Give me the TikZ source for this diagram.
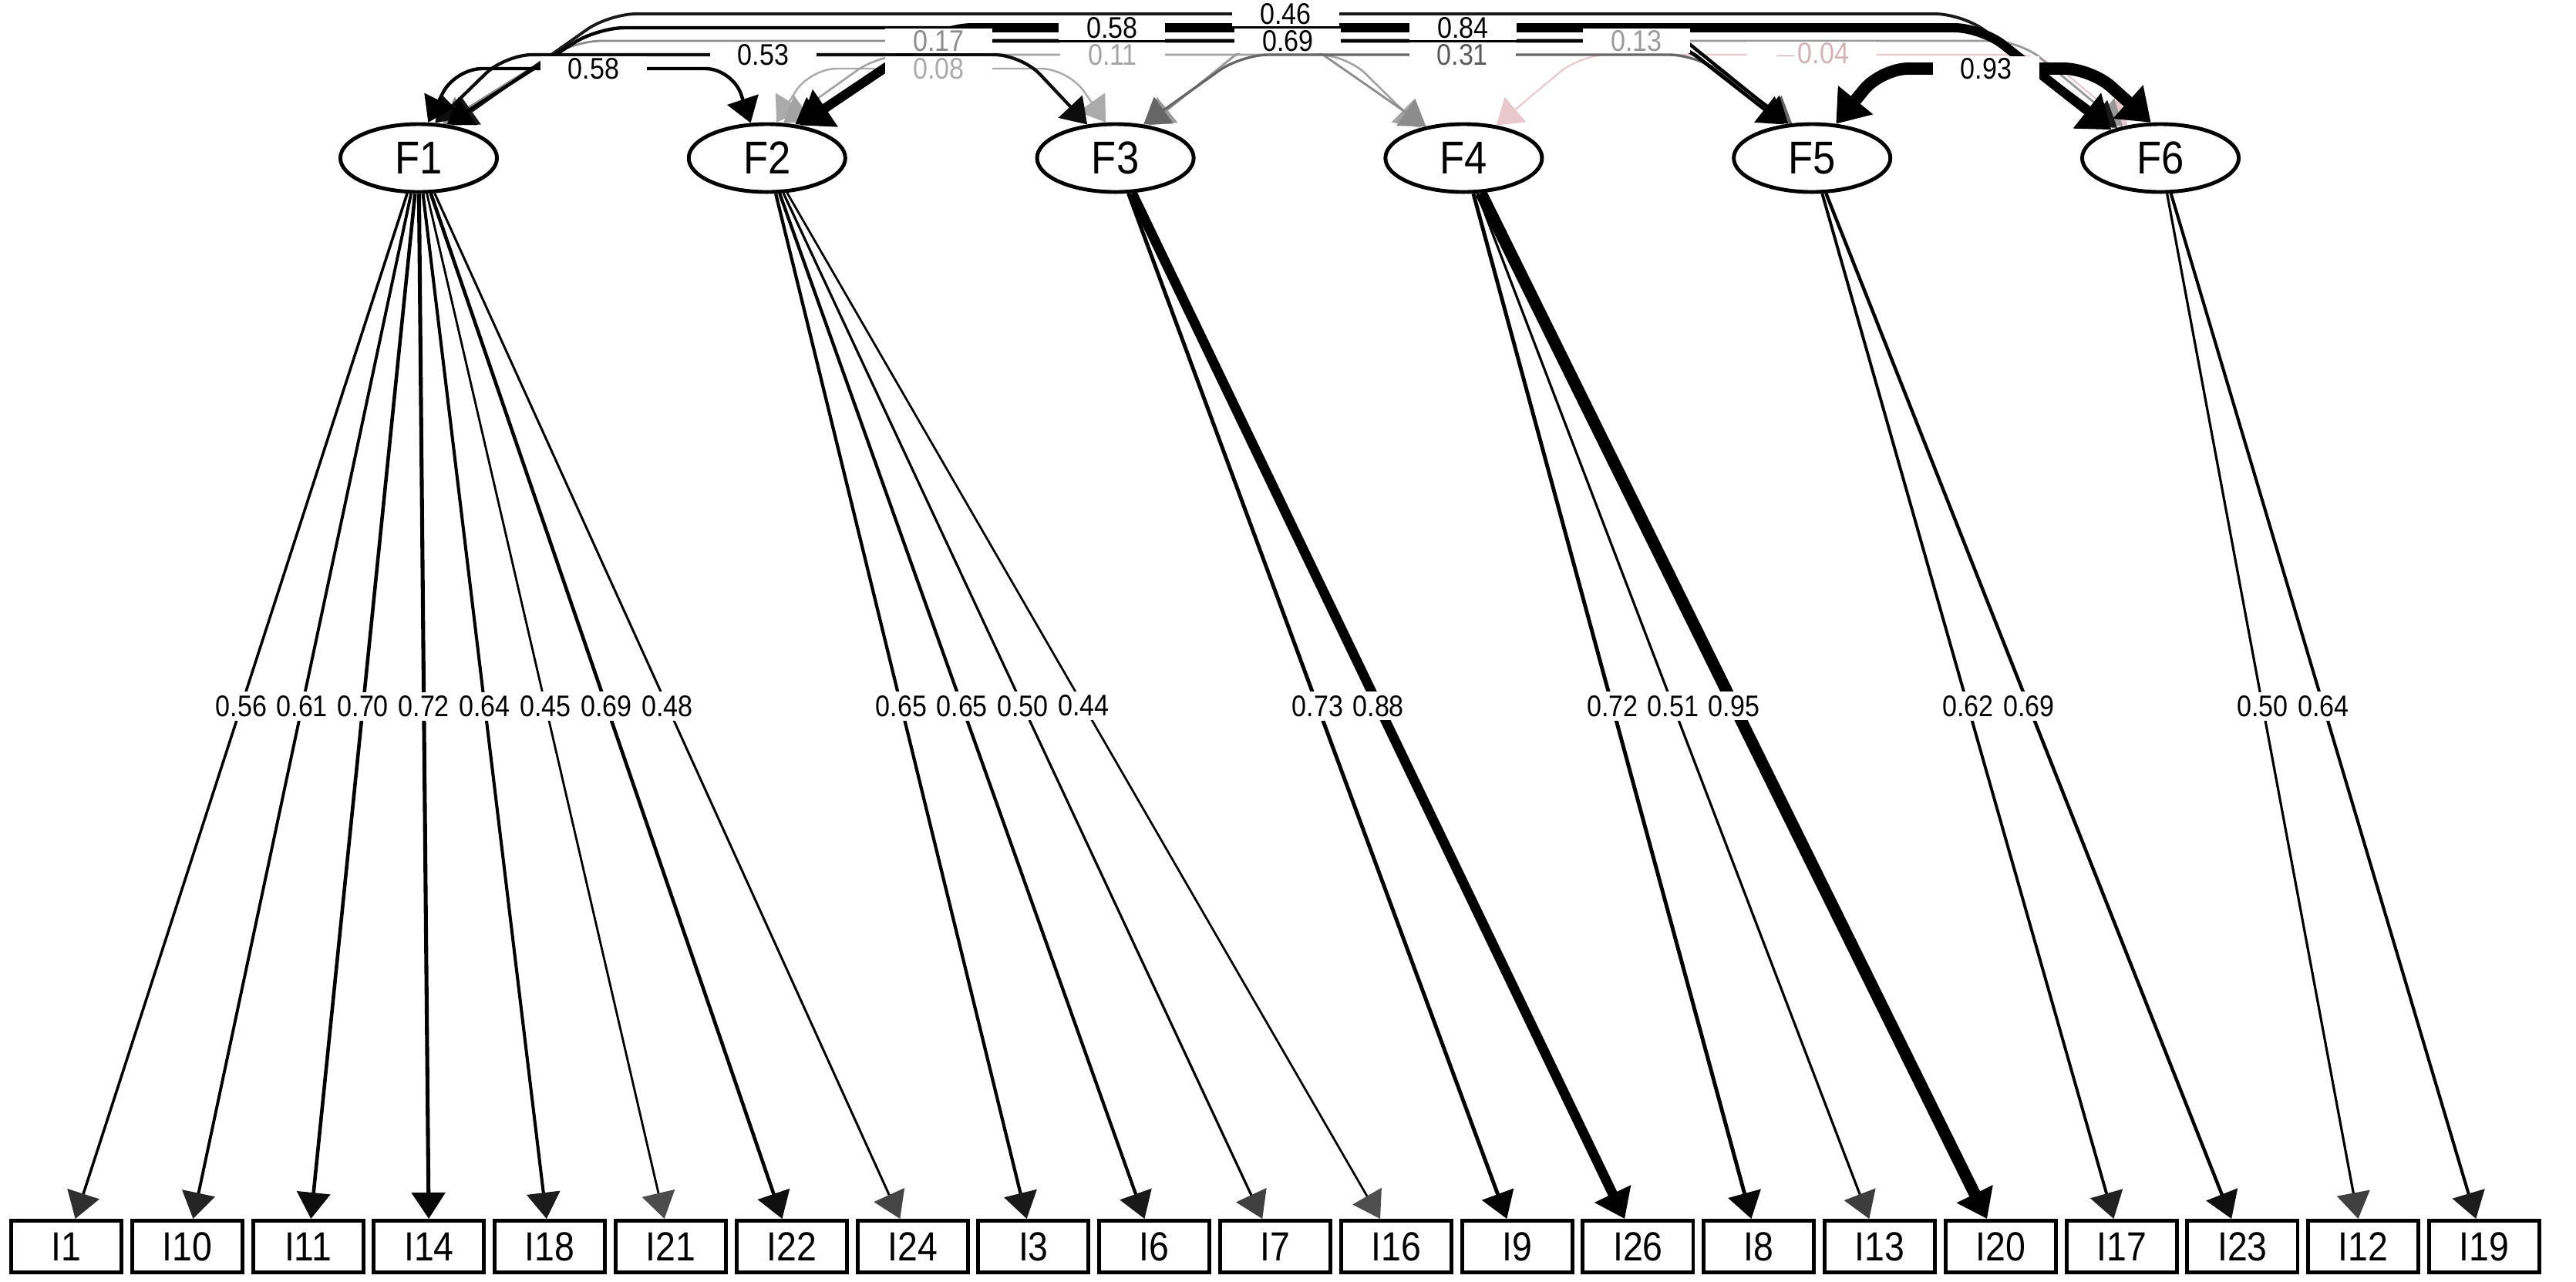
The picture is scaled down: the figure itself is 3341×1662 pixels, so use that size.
\documentclass[tikz,border=0pt]{standalone}
\usepackage{fontspec}
\setmainfont{Liberation Sans}[FakeStretch=0.88]
\usetikzlibrary{arrows.meta,shapes.geometric}
\pgfdeclarelayer{edges}
\pgfsetlayers{edges,main}
\definecolor{faintpink}{RGB}{232,200,204}
\begin{document}
\begin{tikzpicture}[x=0.01cm,y=-0.01cm,
  factor/.style={draw, ellipse, fill=white, line width=1.4pt, minimum width=2.03cm, minimum height=0.88cm, inner sep=0pt, font=\fontsize{17}{17}\selectfont},
  item/.style={draw, rectangle, fill=white, line width=1.4pt, minimum width=1.43cm, minimum height=0.67cm, inner sep=0pt, font=\fontsize{15}{15}\selectfont},
  llab/.style={fill=white, inner xsep=0.05cm, inner ysep=0.05cm, font=\fontsize{11}{11}\selectfont},
  clab/.style={fill=white, inner xsep=0.36cm, inner ysep=0.02cm, font=\fontsize{11}{11}\selectfont},
  corr/.style={rounded corners=0.35cm, {Triangle[width=0.42cm,length=0.32cm]}-{Triangle[width=0.42cm,length=0.32cm]}},
  thickcorr/.style={rounded corners=0.35cm, {Triangle[width=0.56cm,length=0.4cm]}-{Triangle[width=0.56cm,length=0.4cm]}}
]
\useasboundingbox (0,0) rectangle (3341,1662);

% latent factors
\foreach \k in {1,...,6}
  \node[factor] (F\k) at ({543+451.8*(\k-1)},205) {F\k};

% observed items
\foreach \n [count=\c from 0] in {I1,I10,I11,I14,I18,I21,I22,I24,I3,I6,I7,I16,I9,I26,I8,I13,I20,I17,I23,I12,I19}
  \node[item] (\n) at ({86+156.8*\c},1617) {\n};

% loadings
\foreach \f/\i/\v/\w in {F1/I1/0.56/1.0, F1/I10/0.61/1.1, F1/I11/0.70/1.3, F1/I14/0.72/1.45, F1/I18/0.64/1.15, F1/I21/0.45/0.8, F1/I22/0.69/1.3, F1/I24/0.48/0.85,
  F2/I3/0.65/1.2, F2/I6/0.65/1.2, F2/I7/0.50/0.9, F2/I16/0.44/0.78,
  F3/I9/0.73/1.4, F4/I8/0.72/1.4, F4/I13/0.51/0.9,
  F5/I17/0.62/1.1, F5/I23/0.69/1.25, F6/I12/0.50/0.9, F6/I19/0.64/1.15}{
  \pgfmathsetmacro\s{min(100,25+100*\v)}
  \pgfmathsetmacro\t{min(100,55+100*\v)}
  \begin{pgfonlayer}{edges}
    \draw[-{Triangle[width=0.43cm,length=0.34cm,fill=black!\s,color=black!\s]}, line width=\w pt, draw=black!\t] (\f) -- coordinate (m\i) (\i);
  \end{pgfonlayer}
  \node[llab] at (m\i) {\v};
}
\foreach \f/\i/\v/\w in {F3/I26/0.88/3.6, F4/I20/0.95/4.4}{
  \begin{pgfonlayer}{edges}
    \draw[-{Triangle[width=0.5cm,length=0.36cm]}, line width=\w pt, draw=black] (\f) -- coordinate (m\i) (\i);
  \end{pgfonlayer}
  \node[llab] at (m\i) {\v};
}

% factor correlations
\begin{pgfonlayer}{edges}
\draw[corr, line width=0.6pt, draw=faintpink] (F4.45) -- (2050,71) -- coordinate[pos=0.5] (cm04) (2650,71) -- (F6.135);
\draw[corr, line width=0.7pt, draw=black!33] (F2.75) -- (1050,89) -- coordinate[pos=0.5] (c08) (1385,89) -- (F3.105);
\draw[corr, line width=0.75pt, draw=black!36] (F2.65) -- (1140,71) -- coordinate[pos=0.5] (c11) (1746,71) -- (F4.145);
\draw[corr, line width=0.8pt, draw=black!40] (F3.45) -- (1625,53) -- coordinate[pos=0.5] (c13) (2620,53) -- (F6.140);
\draw[corr, line width=0.8pt, draw=black!45] (F1.55) -- (745,53) -- coordinate[pos=0.5] (c17) (1690,53) -- (F4.140);
\draw[corr, line width=0.95pt, draw=black!60] (F3.50) -- (1610,71) -- coordinate[pos=0.486] (c31) (2200,71) -- (F5.120);
\draw[corr, line width=1.1pt, draw=black!90] (F1.45) -- (790,18) -- coordinate[pos=0.5] (c46) (2545,18) -- (F6.145);
\draw[corr, line width=1.2pt, draw=black!95] (F1.65) -- (655,71) -- coordinate[pos=0.5] (c53) (1325,71) -- (F3.130);
\draw[corr, line width=1.25pt, draw=black] (F1.75) -- (590,89) -- coordinate[pos=0.5] (c58a) (950,89) -- (F2.115);
\draw[corr, line width=1.25pt, draw=black] (F1.50) -- (775,36) -- coordinate[pos=0.48] (c58b) (2165,36) -- (F5.125);
\draw[corr, line width=1.35pt, draw=black] (F2.50) -- (1195,53) -- coordinate[pos=0.485] (c69) (2175,53) -- (F5.130);
\draw[thickcorr, line width=3.4pt, draw=black] (F2.45) -- (1225,36) -- coordinate[pos=0.5] (c84) (2570,36) -- (F6.150);
\draw[thickcorr, line width=4.5pt, draw=black] (F5.55) -- (2440,89) -- coordinate[pos=0.5] (c93) (2712,89) -- (F6.105);
\end{pgfonlayer}

\node[clab, text=faintpink!90!black] at (cm04) {$-$0.04};
\node[clab, text=black!33] at (c08) {0.08};
\node[clab, text=black!36] at (c11) {0.11};
\node[clab, text=black!40] at (c13) {0.13};
\node[clab, text=black!45] at (c17) {0.17};
\node[clab, text=black!65] at (c31) {0.31};
\node[clab] at (c46) {0.46};
\node[clab] at (c53) {0.53};
\node[clab] at (c58a) {0.58};
\node[clab] at (c58b) {0.58};
\node[clab] at (c69) {0.69};
\node[clab] at (c84) {0.84};
\node[clab] at (c93) {0.93};
\end{tikzpicture}
\end{document}
